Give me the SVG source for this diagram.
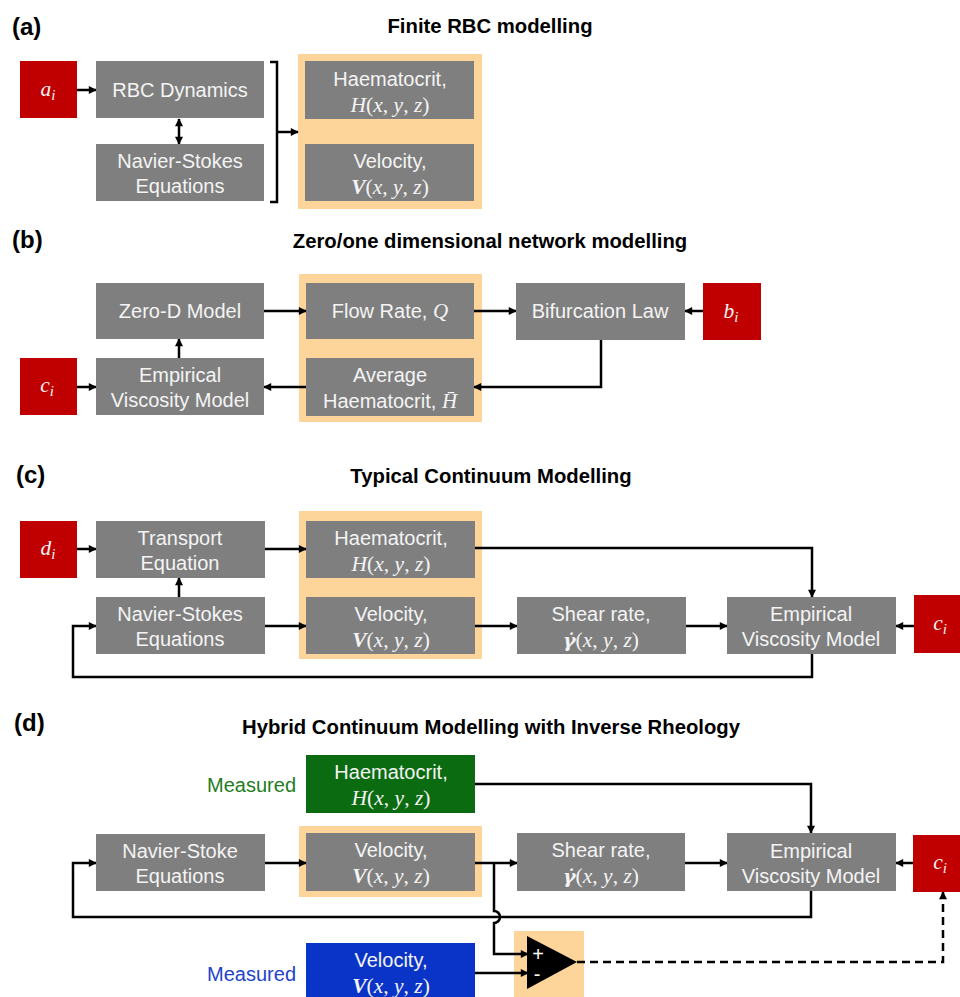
<svg xmlns="http://www.w3.org/2000/svg" width="960" height="997" viewBox="0 0 960 997">
<defs>
<marker id="ah" viewBox="0 0 10 10" refX="9" refY="5" markerWidth="9" markerHeight="8" markerUnits="userSpaceOnUse" orient="auto-start-reverse">
<path d="M0,0 L10,5 L0,10 z" fill="#000"/>
</marker>
<style>
.bg{fill:#ffffff}
.box{fill:#7f7f7f}
.red{fill:#c00000}
.org{fill:#fdd49a}
.grn{fill:#0b6b10}
.blu{fill:#0a33c8}
.t{font-family:"Liberation Sans",Arial,sans-serif;font-size:20px;fill:#f4f4f4;text-anchor:middle}
.m{font-family:"Liberation Serif","Times New Roman",serif;font-size:21.5px;fill:#f4f4f4;text-anchor:middle}
.mi{font-style:italic}
.mb{font-style:italic;font-weight:bold}
.g{font-family:"DejaVu Serif",serif;font-size:19px}
.sub{font-size:15px}
.lbl{font-family:"Liberation Sans",Arial,sans-serif;font-size:24px;font-weight:bold;fill:#000}
.ttl{font-family:"Liberation Sans",Arial,sans-serif;font-size:20.3px;font-weight:bold;fill:#000;text-anchor:middle}
.meas{font-family:"Liberation Sans",Arial,sans-serif;font-size:20px;text-anchor:end}
.c{fill:none;stroke:#000;stroke-width:2.5}
.a{marker-end:url(#ah)}
.d{stroke-dasharray:8 5}
</style>
</defs>
<rect x="0" y="0" width="960" height="997" class="bg"/>

<!-- Panel labels and titles -->
<g id="titles">
<text x="12" y="35" class="lbl">(a)</text>
<text x="490" y="33" class="ttl">Finite RBC modelling</text>
<text x="12" y="248" class="lbl">(b)</text>
<text x="490" y="248" class="ttl">Zero/one dimensional network modelling</text>
<text x="16" y="483" class="lbl">(c)</text>
<text x="491" y="483" class="ttl">Typical Continuum Modelling</text>
<text x="14" y="731" class="lbl">(d)</text>
<text x="491" y="734" class="ttl">Hybrid Continuum Modelling with Inverse Rheology</text>
</g>

<!-- Highlight backgrounds -->
<g id="highlights">
<rect x="298" y="54" width="184" height="155" class="org"/>
<rect x="299" y="274" width="183" height="148" class="org"/>
<rect x="299" y="511" width="183" height="148" class="org"/>
<rect x="299" y="826" width="183" height="71" class="org"/>
<rect x="514" y="931" width="70" height="66" class="org"/>
</g>

<!-- Connectors -->
<g id="connectors">
<path d="M77,90 H96" class="c a"/>
<path d="M179,119 V144" class="c a" marker-start="url(#ah)"/>
<path d="M270,62 H277 V202 H270" class="c"/>
<path d="M277,132 H298" class="c a"/>

<path d="M264,311 H306" class="c a"/>
<path d="M474,311 H516" class="c a"/>
<path d="M703,311 H685" class="c a"/>
<path d="M601,340 V387 H474" class="c a"/>
<path d="M306,387 H264" class="c a"/>
<path d="M179,358 V339" class="c a"/>
<path d="M77,387 H96" class="c a"/>

<path d="M77,549 H96" class="c a"/>
<path d="M265,549 H306" class="c a"/>
<path d="M475,548 H812 V597" class="c a"/>
<path d="M179,597 V578" class="c a"/>
<path d="M265,626 H306" class="c a"/>
<path d="M475,626 H517" class="c a"/>
<path d="M686,626 H727" class="c a"/>
<path d="M914,626 H896" class="c a"/>
<path d="M812,654 V677 H73 V626 H96" class="c a"/>

<path d="M475,784 H811 V833" class="c a"/>
<path d="M265,863 H306" class="c a"/>
<path d="M475,863 H517" class="c a"/>
<path d="M685,863 H727" class="c a"/>
<path d="M913,863 H896" class="c a"/>
<path d="M811,891 V917 H73 V863 H96" class="c a"/>
<path d="M494,863 V911 A6,6 0 0 1 494,923 V954 H528" class="c a"/>
<path d="M475,973 H528" class="c a"/>
<path d="M577,962 H943 V892" class="c a d"/>
</g>

<!-- Panel (a) -->
<g id="a_i"><rect x="20" y="61" width="57" height="57" class="red"/>
<text x="48" y="96" class="m"><tspan class="mi">a</tspan><tspan class="mi sub" dy="4">i</tspan></text></g>
<g id="a_rbc"><rect x="96" y="61" width="168" height="57" class="box"/>
<text x="180" y="97" class="t">RBC Dynamics</text></g>
<g id="a_ns"><rect x="96" y="144" width="168" height="57" class="box"/>
<text x="180" y="168" class="t">Navier-Stokes</text><text x="180" y="193" class="t">Equations</text></g>
<g id="a_haem"><rect x="305" y="61" width="169" height="58" class="box"/>
<text x="390" y="86" class="t">Haematocrit,</text>
<text x="390" y="112" class="m"><tspan class="mi">H</tspan>(<tspan class="mi">x</tspan>, <tspan class="mi">y</tspan>, <tspan class="mi">z</tspan>)</text></g>
<g id="a_vel"><rect x="305" y="144" width="169" height="57" class="box"/>
<text x="390" y="168" class="t">Velocity,</text>
<text x="390" y="194" class="m"><tspan class="mb">V</tspan>(<tspan class="mi">x</tspan>, <tspan class="mi">y</tspan>, <tspan class="mi">z</tspan>)</text></g>

<!-- Panel (b) -->
<g id="b_zero"><rect x="96" y="283" width="168" height="56" class="box"/>
<text x="180" y="318" class="t">Zero-D Model</text></g>
<g id="b_flow"><rect x="306" y="283" width="168" height="56" class="box"/>
<text x="390" y="318" class="t">Flow Rate, <tspan class="mi" style="font-family:'Liberation Serif',serif;font-size:21px">Q</tspan></text></g>
<g id="b_bif"><rect x="516" y="283" width="169" height="57" class="box"/>
<text x="600" y="318" class="t">Bifurcation Law</text></g>
<g id="b_bi"><rect x="703" y="283" width="58" height="57" class="red"/>
<text x="731" y="318" class="m"><tspan class="mi">b</tspan><tspan class="mi sub" dy="4">i</tspan></text></g>
<g id="b_ci"><rect x="20" y="358" width="57" height="57" class="red"/>
<text x="47" y="392" class="m"><tspan class="mi">c</tspan><tspan class="mi sub" dy="4">i</tspan></text></g>
<g id="b_emp"><rect x="96" y="358" width="168" height="57" class="box"/>
<text x="180" y="382" class="t">Empirical</text><text x="180" y="407" class="t">Viscosity Model</text></g>
<g id="b_avg"><rect x="306" y="358" width="168" height="58" class="box"/>
<text x="390" y="382" class="t">Average</text>
<text x="390" y="408" class="t">Haematocrit, <tspan class="mi" style="font-family:'Liberation Serif',serif;font-size:21px">H̄</tspan></text></g>

<!-- Panel (c) -->
<g id="c_di"><rect x="20" y="521" width="57" height="57" class="red"/>
<text x="48" y="555" class="m"><tspan class="mi">d</tspan><tspan class="mi sub" dy="4">i</tspan></text></g>
<g id="c_trans"><rect x="96" y="521" width="169" height="57" class="box"/>
<text x="180" y="545" class="t">Transport</text><text x="180" y="570" class="t">Equation</text></g>
<g id="c_ns"><rect x="96" y="597" width="169" height="57" class="box"/>
<text x="180" y="621" class="t">Navier-Stokes</text><text x="180" y="646" class="t">Equations</text></g>
<g id="c_haem"><rect x="306" y="521" width="169" height="57" class="box"/>
<text x="391" y="545" class="t">Haematocrit,</text>
<text x="391" y="571" class="m"><tspan class="mi">H</tspan>(<tspan class="mi">x</tspan>, <tspan class="mi">y</tspan>, <tspan class="mi">z</tspan>)</text></g>
<g id="c_vel"><rect x="306" y="597" width="169" height="57" class="box"/>
<text x="391" y="621" class="t">Velocity,</text>
<text x="391" y="647" class="m"><tspan class="mb">V</tspan>(<tspan class="mi">x</tspan>, <tspan class="mi">y</tspan>, <tspan class="mi">z</tspan>)</text></g>
<g id="c_shear"><rect x="517" y="597" width="169" height="57" class="box"/>
<text x="601" y="621" class="t">Shear rate,</text>
<text x="601" y="647" class="m"><tspan class="mb g">γ̇</tspan>(<tspan class="mi">x</tspan>, <tspan class="mi">y</tspan>, <tspan class="mi">z</tspan>)</text></g>
<g id="c_emp"><rect x="727" y="597" width="169" height="57" class="box"/>
<text x="811" y="621" class="t">Empirical</text><text x="811" y="646" class="t">Viscosity Model</text></g>
<g id="c_ci"><rect x="914" y="595" width="57" height="58" class="red"/>
<text x="940" y="630" class="m"><tspan class="mi">c</tspan><tspan class="mi sub" dy="4">i</tspan></text></g>

<!-- Panel (d) -->
<g id="d_meas_h"><text x="296" y="792" class="meas" fill="#1f7d22">Measured</text>
<rect x="306" y="755" width="169" height="58" class="grn"/>
<text x="391" y="779" class="t">Haematocrit,</text>
<text x="391" y="805" class="m"><tspan class="mi">H</tspan>(<tspan class="mi">x</tspan>, <tspan class="mi">y</tspan>, <tspan class="mi">z</tspan>)</text></g>
<g id="d_ns"><rect x="96" y="834" width="169" height="57" class="box"/>
<text x="180" y="858" class="t">Navier-Stoke</text><text x="180" y="883" class="t">Equations</text></g>
<g id="d_vel"><rect x="306" y="833" width="169" height="58" class="box"/>
<text x="391" y="857" class="t">Velocity,</text>
<text x="391" y="883" class="m"><tspan class="mb">V</tspan>(<tspan class="mi">x</tspan>, <tspan class="mi">y</tspan>, <tspan class="mi">z</tspan>)</text></g>
<g id="d_shear"><rect x="517" y="833" width="168" height="58" class="box"/>
<text x="601" y="857" class="t">Shear rate,</text>
<text x="601" y="883" class="m"><tspan class="mb g">γ̇</tspan>(<tspan class="mi">x</tspan>, <tspan class="mi">y</tspan>, <tspan class="mi">z</tspan>)</text></g>
<g id="d_emp"><rect x="727" y="833" width="169" height="58" class="box"/>
<text x="811" y="858" class="t">Empirical</text><text x="811" y="883" class="t">Viscosity Model</text></g>
<g id="d_ci"><rect x="913" y="835" width="57" height="57" class="red"/>
<text x="940" y="869" class="m"><tspan class="mi">c</tspan><tspan class="mi sub" dy="4">i</tspan></text></g>
<g id="d_meas_v"><text x="296" y="981" class="meas" fill="#2244cc">Measured</text>
<rect x="306" y="943" width="169" height="60" class="blu"/>
<text x="391" y="967" class="t">Velocity,</text>
<text x="391" y="993" class="m"><tspan class="mb">V</tspan>(<tspan class="mi">x</tspan>, <tspan class="mi">y</tspan>, <tspan class="mi">z</tspan>)</text></g>
<g id="d_comp"><path d="M527,936 L577,962 L527,989 z" fill="#000"/>
<text x="538" y="961" class="t" style="font-size:20px;fill:#fff">+</text>
<text x="537" y="981" class="t" style="font-size:20px;fill:#fff">-</text></g>
</svg>
